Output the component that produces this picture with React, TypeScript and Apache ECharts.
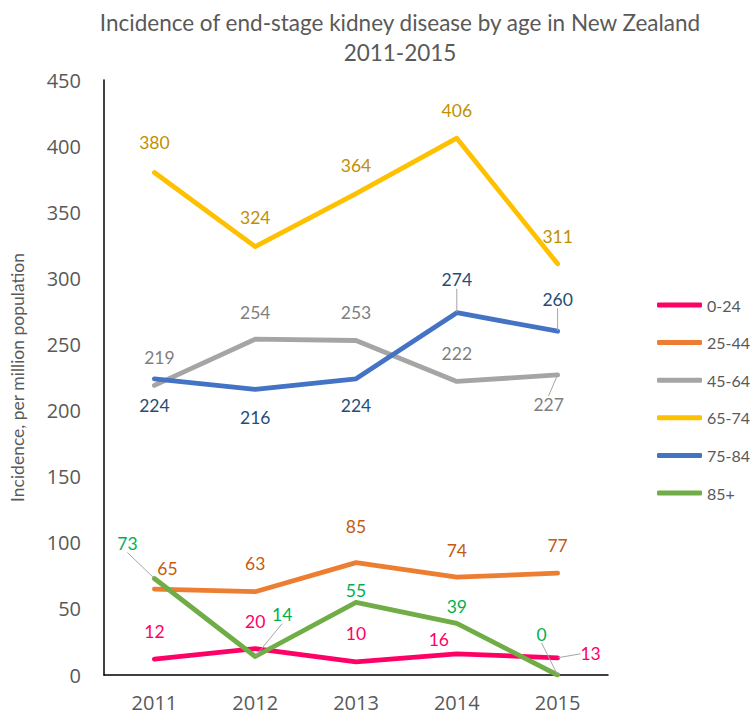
import React, { useEffect, useRef } from "react";
import * as echarts from "echarts";

const years = ["2011", "2012", "2013", "2014", "2015"];
const ageGroups = ["0-24", "25-44", "45-64", "65-74", "75-84", "85+"];
const s0_24 = [12, 20, 10, 16, 13];
const s25_44 = [65, 63, 85, 74, 77];
const s45_64 = [219, 254, 253, 222, 227];
const s65_74 = [380, 324, 364, 406, 311];
const s75_84 = [224, 216, 224, 274, 260];
const s85 = [73, 14, 55, 39, 0];
const seriesValues = [s0_24, s25_44, s45_64, s65_74, s75_84, s85];

const lineColors = ["#FF0066", "#ED7D31", "#A5A5A5", "#FFC000", "#4472C4", "#70AD47"];
const labelColors = ["#FF0066", "#C55A11", "#7F7F7F", "#BF9000", "#1F4E79", "#00B050"];

// label offsets (px) from the data point, and whether a leader line is drawn
const labelOffsets: number[][][] = [
  [[0, -28], [0, -27], [0, -28], [-18, -14], [33, -4]],
  [[13, -21], [0, -28], [0, -36], [0, -27], [0, -28]],
  [[5, -28], [0, -27], [0, -28], [0, -28], [-9, 30]],
  [[0, -30], [0, -29], [0, -28], [0, -28], [0, -27]],
  [[0, 27], [0, 28], [0, 27], [0, -33], [0, -32]],
  [[-27, -35], [27, -42], [0, -12], [0, -17], [-16, -41]],
];
const leaders: boolean[][] = [
  [false, false, false, false, true],
  [false, false, false, false, false],
  [false, false, false, false, true],
  [false, false, false, false, false],
  [false, false, false, true, true],
  [true, true, false, false, true],
];

export default function App() {
  const ref = useRef<HTMLDivElement>(null);
  useEffect(() => {
    if (!ref.current) return;
    const chart = echarts.init(ref.current, undefined, { renderer: "svg" });
    const series = ageGroups.map((name, si) => ({
      name,
      type: "line",
      data: seriesValues[si].map((v, di) => ({
        value: v,
        labelLine: {
          show: leaders[si][di],
          lineStyle: { color: "#A6A6A6", width: 1 },
        },
      })),
      symbol: "circle",
      symbolSize: 1,
      showSymbol: true,
      itemStyle: { color: lineColors[si] },
      lineStyle: { color: lineColors[si], width: 4.8, cap: "round", join: "round" },
      label: {
        show: true,
        position: "inside",
        color: labelColors[si],
        fontFamily: "Lato",
        fontSize: 17.5,
      },
      labelLine: { show: false, lineStyle: { color: "#A6A6A6", width: 1 } },
      labelLayout: (params: any) => {
        const off = labelOffsets[params.seriesIndex][params.dataIndex];
        return { dx: off[0], dy: off[1] };
      },
      z: 2 + si,
    }));
    chart.setOption({
      animation: false,
      backgroundColor: "#ffffff",
      graphic: [
        {
          type: "text",
          x: 400,
          y: 37,
          style: {
            text: "Incidence of end-stage kidney disease by age in New Zealand\n2011-2015",
            fontFamily: "Lato",
            fontSize: 22.5,
            lineHeight: 30,
            fill: "#595959",
            textAlign: "center",
            textVerticalAlign: "middle",
          },
        },
      ],
      legend: {
        orient: "vertical",
        left: 657,
        top: 297,
        padding: 0,
        itemWidth: 45,
        itemHeight: 5,
        itemGap: 21.6,
        icon: "roundRect",
        data: ageGroups,
        textStyle: { fontFamily: "Lato", fontSize: 16, color: "#595959", lineHeight: 16 },
      },
      grid: { left: 100, right: 147, top: 80, bottom: 40 },
      xAxis: {
        type: "category",
        data: years,
        boundaryGap: true,
        axisLine: { lineStyle: { color: "#000000", width: 1.5 } },
        axisTick: { show: false },
        axisLabel: { fontFamily: "Open Sans", fontSize: 20, color: "#595959", margin: 17 },
      },
      yAxis: {
        type: "value",
        min: 0,
        max: 450,
        interval: 50,
        name: "Incidence, per million population",
        nameLocation: "middle",
        nameGap: 78,
        nameTextStyle: { fontFamily: "Lato", fontSize: 17.5, color: "#595959" },
        axisLine: { show: true, lineStyle: { color: "#000000", width: 1.5 } },
        axisTick: { show: false },
        splitLine: { show: false },
        axisLabel: { fontFamily: "Open Sans", fontSize: 20, color: "#595959", margin: 23 },
      },
      series,
    });
    return () => chart.dispose();
  }, []);
  return (
    <div
      ref={ref}
      style={{ position: "fixed", left: 0, top: 0, width: 755, height: 715 }}
    />
  );
}
